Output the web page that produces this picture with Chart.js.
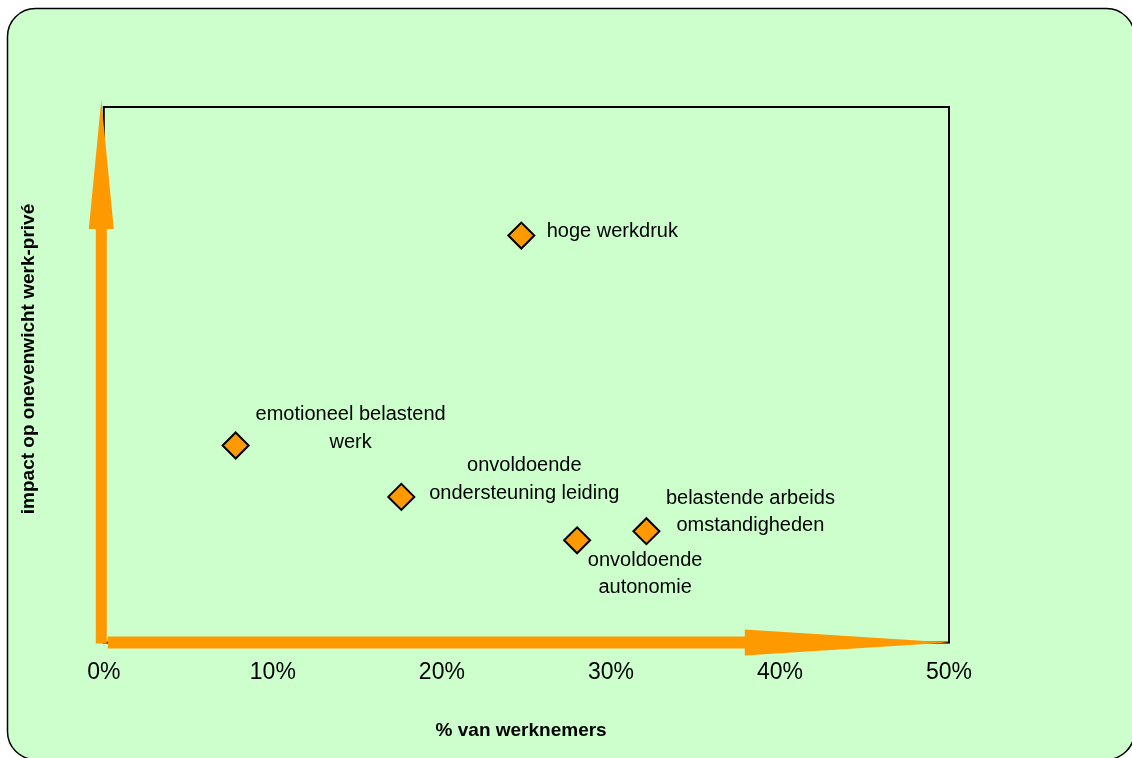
<!DOCTYPE html>
<html lang="nl">
<head>
    <meta charset="UTF-8">
    <title>Impact op onevenwicht werk-privé</title>
    <script src="https://cdn.jsdelivr.net/npm/chart.js"></script>
    <style>
        html, body { margin: 0; padding: 0; background: #ffffff; }
        #wrap { width: 1132px; height: 758px; }
    </style>
</head>
<body>
    <div id="wrap"><canvas id="scatterChart"></canvas></div>

    <script>
        // data
        const factors = [
            ["hoge werkdruk"],
            ["emotioneel belastend", "werk"],
            ["onvoldoende", "ondersteuning leiding"],
            ["onvoldoende", "autonomie"],
            ["belastende arbeids", "omstandigheden"]
        ];
        const pctWerknemers = [24.7, 7.8, 17.6, 28.0, 32.1];
        const impactScores = [76.0, 36.8, 27.2, 19.1, 20.8];
        const xTickValues = [0, 10, 20, 30, 40, 50];

        // where each label sits relative to its point (px)
        const labelOffsets = [
            { dx: 91, dy: -4 },
            { dx: 115, dy: -31 },
            { dx: 123, dy: -31 },
            { dx: 68, dy: 20 },
            { dx: 104, dy: -33 }
        ];

        const GREEN = '#ccffcc';
        const ORANGE = '#ff9900';
        const FONT = '"Liberation Sans", Arial, sans-serif';

        const points = pctWerknemers.map((x, i) => ({ x: x, y: impactScores[i] }));

        // rounded green panel behind everything
        const panelPlugin = {
            id: 'panel',
            beforeDraw(chart) {
                const ctx = chart.ctx;
                ctx.save();
                ctx.fillStyle = '#ffffff';
                ctx.fillRect(0, 0, chart.width, chart.height);
                ctx.beginPath();
                ctx.roundRect(7.5, 8.5, 1127, 751, 28);
                ctx.fillStyle = GREEN;
                ctx.fill();
                ctx.lineWidth = 1.5;
                ctx.strokeStyle = '#000';
                ctx.stroke();
                ctx.restore();
            }
        };

        // black box + orange arrows for the axes
        const axesPlugin = {
            id: 'arrowAxes',
            beforeDatasetsDraw(chart) {
                const ctx = chart.ctx;
                const a = chart.chartArea;
                ctx.save();
                ctx.strokeStyle = '#000';
                ctx.lineWidth = 2;
                ctx.strokeRect(a.left, a.top, a.right - a.left, a.bottom - a.top);

                ctx.fillStyle = ORANGE;
                // vertical arrow
                const vx = a.left - 2.5;
                ctx.beginPath();
                ctx.moveTo(vx - 5.5, a.bottom + 1);
                ctx.lineTo(vx - 5.5, a.top + 122);
                ctx.lineTo(vx - 12.5, a.top + 122);
                ctx.lineTo(vx, a.top - 7);
                ctx.lineTo(vx + 12.5, a.top + 122);
                ctx.lineTo(vx + 5.5, a.top + 122);
                ctx.lineTo(vx + 5.5, a.bottom + 1);
                ctx.closePath();
                ctx.fill();
                // horizontal arrow
                const hy = a.bottom;
                const hb = a.left + 641;
                ctx.beginPath();
                ctx.moveTo(a.left + 4, hy - 6);
                ctx.lineTo(hb, hy - 6);
                ctx.lineTo(hb, hy - 13);
                ctx.lineTo(a.right, hy);
                ctx.lineTo(hb, hy + 13);
                ctx.lineTo(hb, hy + 6);
                ctx.lineTo(a.left + 4, hy + 6);
                ctx.closePath();
                ctx.fill();
                ctx.restore();
            },
            afterDatasetsDraw(chart) {
                const ctx = chart.ctx;
                const meta = chart.getDatasetMeta(0);
                ctx.save();
                ctx.font = '20px ' + FONT;
                ctx.fillStyle = '#000';
                ctx.textAlign = 'center';
                ctx.textBaseline = 'middle';
                meta.data.forEach((el, i) => {
                    const off = labelOffsets[i];
                    factors[i].forEach((line, j) => {
                        ctx.fillText(line, el.x + off.dx, el.y + off.dy + j * 27.5);
                    });
                });
                ctx.restore();
            }
        };

        const ctx = document.getElementById('scatterChart').getContext('2d');
        const scatterChart = new Chart(ctx, {
            type: 'scatter',
            data: {
                datasets: [{
                    label: 'factoren',
                    data: points,
                    pointStyle: 'rectRot',
                    pointRadius: 13,
                    pointHoverRadius: 13,
                    backgroundColor: ORANGE,
                    borderColor: '#000',
                    borderWidth: 2
                }]
            },
            options: {
                responsive: true,
                maintainAspectRatio: false,
                animation: false,
                layout: {
                    padding: { left: 17, top: 107, right: 183, bottom: 12 }
                },
                plugins: {
                    legend: { display: false },
                    tooltip: { enabled: false }
                },
                scales: {
                    x: {
                        type: 'linear',
                        min: 0,
                        max: 50,
                        afterBuildTicks: axis => {
                            axis.ticks = xTickValues.map(v => ({ value: v }));
                        },
                        grid: { display: false, drawTicks: false },
                        border: { display: false },
                        ticks: {
                            padding: 16,
                            color: '#000',
                            font: { family: FONT, size: 23 },
                            maxRotation: 0,
                            callback: v => v + '%'
                        },
                        title: {
                            display: true,
                            text: '% van werknemers\u00a0\u00a0',
                            color: '#000',
                            font: { family: FONT, size: 19, weight: 'bold' },
                            padding: { top: 17, bottom: 4 }
                        }
                    },
                    y: {
                        type: 'linear',
                        min: 0,
                        max: 100,
                        grid: { display: false, drawTicks: false },
                        border: { display: false },
                        ticks: { display: false },
                        title: {
                            display: true,
                            text: '\u00a0\u00a0\u00a0\u00a0\u00a0\u00a0impact op onevenwicht werk-privé',
                            color: '#000',
                            font: { family: FONT, size: 19, weight: 'bold' },
                            padding: { top: 0, bottom: 64 }
                        }
                    }
                }
            },
            plugins: [panelPlugin, axesPlugin]
        });
    </script>
</body>
</html>
